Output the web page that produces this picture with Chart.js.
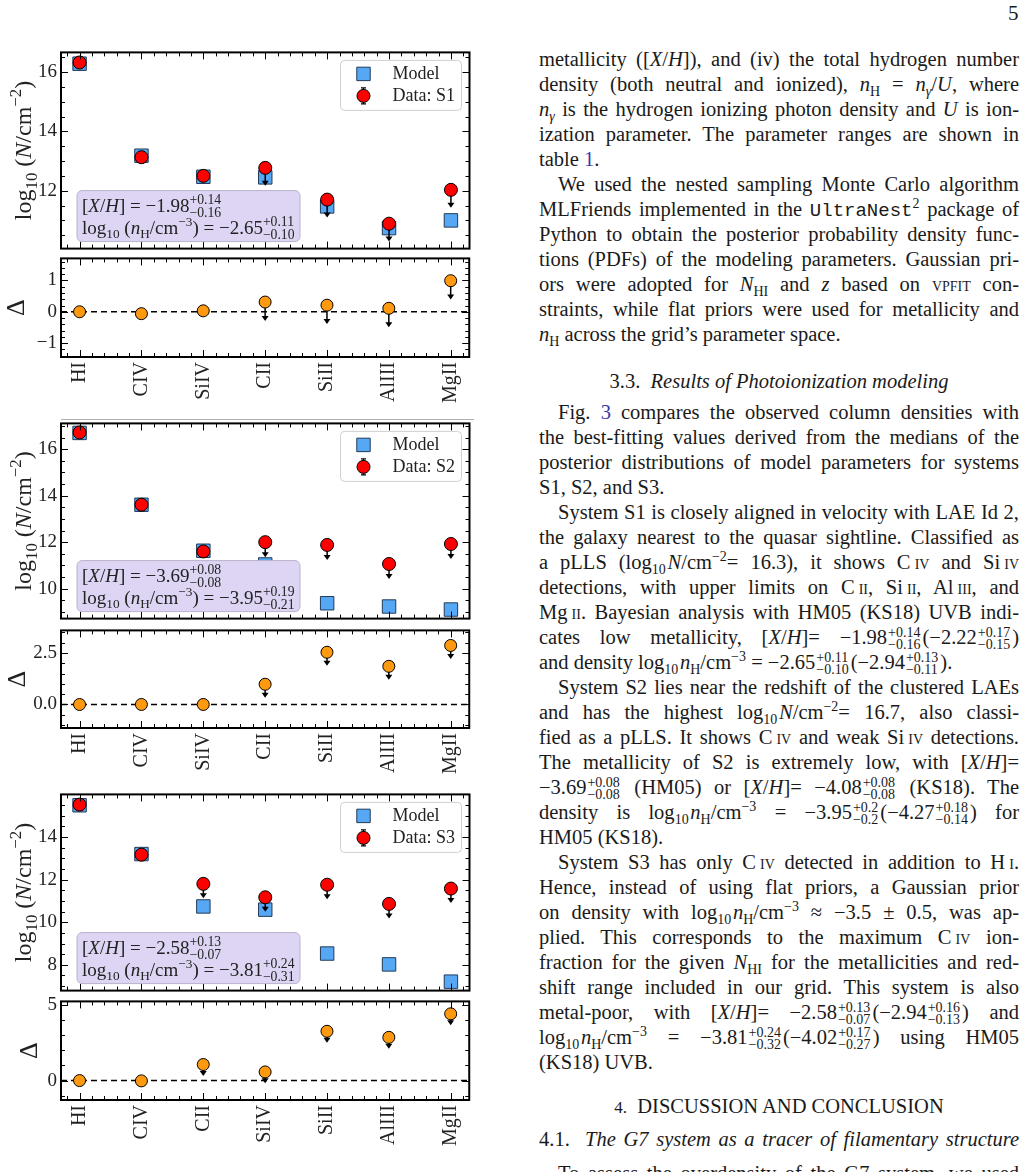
<!DOCTYPE html>
<html>
<head>
<meta charset="utf-8">
<script src="https://cdn.jsdelivr.net/npm/chart.js@4.4.1/dist/chart.umd.min.js"></script>
<style>
body { margin: 0; width: 1029px; height: 1172px; overflow: hidden; background: #fff; position: relative;
       font-family: "Liberation Serif", "DejaVu Serif", serif; color: #1a1a1a; }
canvas { position: absolute; left: 0; }
.col { position: absolute; left: 539px; width: 480px; font-size: 20.5px; line-height: 25px; }
.l { height: 25px; text-align: justify; text-align-last: justify; }
.l.e { text-align-last: left; }
.l.i { text-indent: 19px; }
.h { position: absolute; left: 539px; width: 480px; font-size: 20.5px; line-height: 25px; text-align: center; }
sub { font-size: 14px; vertical-align: -5px; line-height: 0; }
sup { font-size: 14px; vertical-align: 8px; line-height: 0; }
.st { display: inline-flex; flex-direction: column; font-size: 14px; line-height: 12px; vertical-align: 7px; margin: 0 2px 0 1px; }
.st b { font-weight: normal; }
.sc { font-variant: small-caps; }
.tt { font-family: "Liberation Mono", monospace; font-size: 19px; }
a { color: #3a3aa8; }
.pg { position: absolute; left: 1008px; top: 1px; font-size: 21px; }
</style>
</head>
<body>
<div id="fig"></div>
<div style="position:absolute;left:61px;top:419px;width:413px;height:1px;background:#b0b0b0"></div>

<div class="pg">5</div>

<div class="col" style="top:47px">
<div class="l">metallicity ([<i>X</i>/<i>H</i>]), and (iv) the total hydrogen number</div>
<div class="l">density (both neutral and ionized), <i>n</i><sub>H</sub> = <i>n</i><sub><i>γ</i></sub>/<i>U</i>, where</div>
<div class="l"><i>n</i><sub><i>γ</i></sub> is the hydrogen ionizing photon density and <i>U</i> is ion-</div>
<div class="l">ization parameter. The parameter ranges are shown in</div>
<div class="l e">table <a>1</a>.</div>
<div class="l i">We used the nested sampling Monte Carlo algorithm</div>
<div class="l">MLFriends implemented in the <span class="tt">UltraNest</span><sup>2</sup> package of</div>
<div class="l">Python to obtain the posterior probability density func-</div>
<div class="l">tions (PDFs) of the modeling parameters. Gaussian pri-</div>
<div class="l">ors were adopted for <i>N</i><sub>HI</sub> and <i>z</i> based on <span class="sc">vpfit</span> con-</div>
<div class="l">straints, while flat priors were used for metallicity and</div>
<div class="l e"><i>n</i><sub>H</sub> across the grid’s parameter space.</div>
</div>

<div class="h" style="top:369px">3.3.&nbsp;&nbsp;<i>Results of Photoionization modeling</i></div>

<div class="col" style="top:400px">
<div class="l i">Fig. <a>3</a> compares the observed column densities with</div>
<div class="l">the best-fitting values derived from the medians of the</div>
<div class="l">posterior distributions of model parameters for systems</div>
<div class="l e">S1, S2, and S3.</div>
<div class="l i">System S1 is closely aligned in velocity with LAE Id 2,</div>
<div class="l">the galaxy nearest to the quasar sightline. Classified as</div>
<div class="l">a pLLS (log<sub>10</sub>&#8202;<i>N</i>/cm<sup>−2</sup>= 16.3), it shows C<span class="sc">&#8201;iv</span> and Si<span class="sc">&#8201;iv</span></div>
<div class="l">detections, with upper limits on C<span class="sc">&#8201;ii</span>, Si<span class="sc">&#8201;ii</span>, Al<span class="sc">&#8201;iii</span>, and</div>
<div class="l">Mg<span class="sc">&#8201;ii</span>. Bayesian analysis with HM05 (KS18) UVB indi-</div>
<div class="l">cates low metallicity, [<i>X</i>/<i>H</i>]= −1.98<span class="st"><b>+0.14</b><b>−0.16</b></span>(−2.22<span class="st"><b>+0.17</b><b>−0.15</b></span>)</div>
<div class="l e">and density log<sub>10</sub>&#8202;<i>n</i><sub>H</sub>/cm<sup>−3</sup> = −2.65<span class="st"><b>+0.11</b><b>−0.10</b></span>(−2.94<span class="st"><b>+0.13</b><b>−0.11</b></span>).</div>
<div class="l i">System S2 lies near the redshift of the clustered LAEs</div>
<div class="l">and has the highest log<sub>10</sub>&#8202;<i>N</i>/cm<sup>−2</sup>= 16.7, also classi-</div>
<div class="l">fied as a pLLS. It shows C<span class="sc">&#8201;iv</span> and weak Si<span class="sc">&#8201;iv</span> detections.</div>
<div class="l">The metallicity of S2 is extremely low, with [<i>X</i>/<i>H</i>]=</div>
<div class="l">−3.69<span class="st"><b>+0.08</b><b>−0.08</b></span> (HM05) or [<i>X</i>/<i>H</i>]= −4.08<span class="st"><b>+0.08</b><b>−0.08</b></span> (KS18). The</div>
<div class="l">density is log<sub>10</sub>&#8202;<i>n</i><sub>H</sub>/cm<sup>−3</sup> = −3.95<span class="st"><b>+0.2</b><b>−0.2</b></span>(−4.27<span class="st"><b>+0.18</b><b>−0.14</b></span>) for</div>
<div class="l e">HM05 (KS18).</div>
<div class="l i">System S3 has only C<span class="sc">&#8201;iv</span> detected in addition to H<span class="sc">&#8201;i</span>.</div>
<div class="l">Hence, instead of using flat priors, a Gaussian prior</div>
<div class="l">on density with log<sub>10</sub>&#8202;<i>n</i><sub>H</sub>/cm<sup>−3</sup> ≈ −3.5 ± 0.5, was ap-</div>
<div class="l">plied. This corresponds to the maximum C<span class="sc">&#8201;iv</span> ion-</div>
<div class="l">fraction for the given <i>N</i><sub>HI</sub> for the metallicities and red-</div>
<div class="l">shift range included in our grid. This system is also</div>
<div class="l">metal-poor, with [<i>X</i>/<i>H</i>]= −2.58<span class="st"><b>+0.13</b><b>−0.07</b></span>(−2.94<span class="st"><b>+0.16</b><b>−0.13</b></span>) and</div>
<div class="l">log<sub>10</sub>&#8202;<i>n</i><sub>H</sub>/cm<sup>−3</sup> = −3.81<span class="st"><b>+0.24</b><b>−0.32</b></span>(−4.02<span class="st"><b>+0.17</b><b>−0.27</b></span>) using HM05</div>
<div class="l e">(KS18) UVB.</div>
</div>

<div class="h" style="top:1094px"><span style="font-size:17px">4.</span>&nbsp;&nbsp;DISCUSSION AND CONCLUSION</div>
<div class="col" style="top:1127px">
<div class="l">4.1.&nbsp;&nbsp;<i>The G7 system as a tracer of filamentary structure</i></div>
</div>
<div class="col" style="top:1161px">
<div class="l i">To assess the overdensity of the G7 system, we used</div>
</div>

<script>
// Werte (log10 N/cm^-2)
const ions1 = ['HI', 'CIV', 'SiIV', 'CII', 'SiII', 'AlIII', 'MgII'];
const model1 = [16.28, 13.18, 12.47, 12.45, 11.47, 10.74, 11.00];
const data1 = [16.32, 13.13, 12.50, 12.77, 11.70, 10.89, 12.03];
const upper1 = [0, 0, 0, 1, 1, 1, 1];
const delta1 = [0.00, -0.06, 0.03, 0.31, 0.21, 0.11, 0.99];
const fit1 = ['−1.98', '+0.14', '−0.16', '−2.65', '+0.11', '−0.10'];

const ions2 = ['HI', 'CIV', 'SiIV', 'CII', 'SiII', 'AlIII', 'MgII'];
const model2 = [16.70, 13.61, 11.63, 11.04, 9.37, 9.23, 9.10];
const data2 = [16.72, 13.61, 11.60, 12.00, 11.88, 11.06, 11.92];
const upper2 = [0, 0, 0, 1, 1, 1, 1];
const delta2 = [0.00, 0.00, 0.00, 0.98, 2.53, 1.85, 2.86];
const fit2 = ['−3.69', '+0.08', '−0.08', '−3.95', '+0.19', '−0.21'];

const ions3 = ['HI', 'CIV', 'CII', 'SiIV', 'SiII', 'AlIII', 'MgII'];
const model3 = [15.49, 13.20, 10.74, 10.59, 8.53, 8.02, 7.21];
const data3 = [15.52, 13.17, 11.80, 11.17, 11.76, 10.86, 11.58];
const upper3 = [0, 0, 1, 1, 1, 1, 1];
const delta3 = [0.00, -0.02, 1.06, 0.57, 3.25, 2.85, 4.40];
const fit3 = ['−2.58', '+0.13', '−0.07', '−3.81', '+0.24', '−0.31'];

// Achsenbeschriftungen
const nTicks1 = [12, 14, 16];
const nTicks2 = [10, 12, 14, 16];
const nTicks3 = [8, 10, 12, 14];
const dTicks1 = [-1, 0, 1];
const dLabels1 = ['−1', '0', '1'];
const dTicks2 = [0, 2.5];
const dLabels2 = ['0.0', '2.5'];
const dTicks3 = [0, 5];
const dLabels3 = ['0', '5'];

const systems = [
    { name: 'S1', ions: ions1, model: model1, data: data1, upper: upper1, delta: delta1, fit: fit1, nTicks: nTicks1, dTicks: dTicks1, dLabels: dLabels1 },
    { name: 'S2', ions: ions2, model: model2, data: data2, upper: upper2, delta: delta2, fit: fit2, nTicks: nTicks2, dTicks: dTicks2, dLabels: dLabels2 },
    { name: 'S3', ions: ions3, model: model3, data: data3, upper: upper3, delta: delta3, fit: fit3, nTicks: nTicks3, dTicks: dTicks3, dLabels: dLabels3 }
];

// Lage der Achsenrahmen im Bild und Achsenbereiche
const frames = [
    { top: 49, h: 203, nMin: 10.05, nMax: 16.66, nArrow: 0.6, dTop: 255, dh: 102, dMin: -1.44, dMax: 1.70, dMinor: 0.2, dArrow: 0.6, dTitleX: 24 },
    { top: 420, h: 202, nMin: 8.71, nMax: 17.11, nArrow: 0.65, dTop: 627, dh: 101, dMin: -1.14, dMax: 3.59, dMinor: 0.5, dArrow: 0.65, dTitleX: 25 },
    { top: 791, h: 203, nMin: 6.79, nMax: 16.0, nArrow: 0.68, dTop: 998, dh: 102, dMin: -1.28, dMax: 5.22, dMinor: 1, dArrow: 0.75, dTitleX: 37 }
];

const FONT = '"Liberation Serif", "DejaVu Serif", serif';
const RED = '#ff0000', BLUE = '#56a8f5', ORANGE = '#ff9a10';

function fnt(size, italic) {
    return (italic ? 'italic ' : '') + size + 'px ' + FONT;
}

// kleiner Formelsatz auf dem Canvas: Hoch-/Tiefstellung und gestapelte Fehler
function rich(ctx, parts, x, y, size, draw) {
    let cx = x;
    parts.forEach(p => {
        if (p.st) {
            ctx.font = fnt(size * 0.72, false);
            const w = Math.max(ctx.measureText(p.st[0]).width, ctx.measureText(p.st[1]).width);
            if (draw) {
                ctx.fillText(p.st[0], cx, y - size * 0.4);
                ctx.fillText(p.st[1], cx, y + size * 0.3);
            }
            cx += w;
            return;
        }
        const s = (p.sub || p.sup) ? size * 0.7 : size;
        const dy = p.sub ? size * 0.25 : (p.sup ? -size * 0.42 : 0);
        ctx.font = fnt(s, p.i);
        if (draw) ctx.fillText(p.t, cx, y + dy);
        cx += ctx.measureText(p.t).width;
    });
    return cx - x;
}

function minorTicks(min, max, step) {
    const out = [];
    for (let v = Math.ceil(min / step - 1e-6) * step; v <= max + 1e-6; v += step) out.push(v);
    return out;
}

function decor(o) {
    return {
        id: 'decor',
        // Pfeile für obere Grenzen, unter den Kreisen gezeichnet
        beforeDatasetDraw(chart, args) {
            if (args.index !== 0) return;
            const ctx = chart.ctx, xs = chart.scales.x, ys = chart.scales.y;
            ctx.save();
            ctx.strokeStyle = '#000';
            ctx.fillStyle = '#000';
            ctx.lineWidth = 1.5;
            o.vals.forEach((v, i) => {
                if (!o.upper[i]) return;
                const px = xs.getPixelForValue(i);
                const py = ys.getPixelForValue(v);
                const tip = ys.getPixelForValue(v - o.arrow);
                ctx.beginPath();
                ctx.moveTo(px, py);
                ctx.lineTo(px, tip - 3);
                ctx.stroke();
                ctx.beginPath();
                ctx.moveTo(px - 3.5, tip - 5);
                ctx.lineTo(px + 3.5, tip - 5);
                ctx.lineTo(px, tip);
                ctx.closePath();
                ctx.fill();
            });
            ctx.restore();
        },
        afterDatasetsDraw(chart) {
            const ctx = chart.ctx, a = chart.chartArea, xs = chart.scales.x, ys = chart.scales.y;
            ctx.save();
            // Ticks nach innen auf allen vier Seiten
            ctx.strokeStyle = '#000';
            ctx.lineWidth = 1;
            const tickX = (v, len) => {
                const p = Math.round(xs.getPixelForValue(v)) + 0.5;
                ctx.beginPath();
                ctx.moveTo(p, a.bottom); ctx.lineTo(p, a.bottom - len);
                ctx.moveTo(p, a.top); ctx.lineTo(p, a.top + len);
                ctx.stroke();
            };
            const tickY = (v, len) => {
                const p = Math.round(ys.getPixelForValue(v)) + 0.5;
                ctx.beginPath();
                ctx.moveTo(a.left, p); ctx.lineTo(a.left + len, p);
                ctx.moveTo(a.right, p); ctx.lineTo(a.right - len, p);
                ctx.stroke();
            };
            minorTicks(xs.min, xs.max, 0.2).forEach(v => tickX(v, 4));
            o.ions.forEach((_, i) => tickX(i, 7));
            minorTicks(ys.min, ys.max, o.yMinor).forEach(v => tickY(v, 4));
            o.yTicks.forEach(v => tickY(v, 7));
            ctx.lineWidth = 2;
            ctx.strokeRect(a.left, a.top, a.right - a.left, a.bottom - a.top);

            ctx.textAlign = 'left';
            ctx.textBaseline = 'alphabetic';

            // Kasten mit den Fitparametern
            if (o.fit) {
                const bx = a.left + 16, by = a.bottom - 58;
                ctx.beginPath();
                ctx.roundRect(bx, by, 223, 51, 5);
                ctx.fillStyle = '#ddd5f3';
                ctx.fill();
                ctx.strokeStyle = '#b9b3cc';
                ctx.lineWidth = 1;
                ctx.stroke();
                ctx.fillStyle = '#222';
                rich(ctx, [{ t: '[' }, { t: 'X', i: 1 }, { t: '/' }, { t: 'H', i: 1 }, { t: '] = ' + o.fit[0] }, { st: [o.fit[1], o.fit[2]] }],
                    bx + 5, a.bottom - 37, 19, true);
                rich(ctx, [{ t: 'log' }, { t: '10', sub: 1 }, { t: ' (' }, { t: 'n', i: 1 }, { t: 'H', sub: 1 }, { t: '/cm' }, { t: '−3', sup: 1 },
                    { t: ') = ' + o.fit[3] }, { st: [o.fit[4], o.fit[5]] }], bx + 5, a.bottom - 15, 19, true);
            }

            // Legende oben rechts
            if (o.legend) {
                const lx = a.right - 129, ly = a.top + 8;
                ctx.beginPath();
                ctx.roundRect(lx, ly, 121, 50, 4);
                ctx.fillStyle = 'rgba(255,255,255,0.85)';
                ctx.fill();
                ctx.strokeStyle = '#d0d0d0';
                ctx.lineWidth = 1;
                ctx.stroke();
                const dsData = chart.data.datasets[0], dsModel = chart.data.datasets[1];
                const mx = a.right - 106;
                ctx.fillStyle = dsModel.pointBackgroundColor;
                ctx.strokeStyle = dsModel.pointBorderColor;
                ctx.lineWidth = 1;
                Chart.helpers.drawPoint(ctx, { pointStyle: 'rect', radius: dsModel.pointRadius, rotation: 0, borderWidth: 1 }, mx, ly + 13.5);
                ctx.strokeStyle = '#000';
                ctx.lineWidth = 1.2;
                ctx.beginPath();
                ctx.moveTo(mx, ly + 27.5); ctx.lineTo(mx, ly + 43.5);
                ctx.moveTo(mx - 2.5, ly + 27.5); ctx.lineTo(mx + 2.5, ly + 27.5);
                ctx.moveTo(mx - 2.5, ly + 43.5); ctx.lineTo(mx + 2.5, ly + 43.5);
                ctx.stroke();
                ctx.fillStyle = dsData.pointBackgroundColor;
                ctx.lineWidth = 1;
                Chart.helpers.drawPoint(ctx, { pointStyle: 'circle', radius: dsData.pointRadius, rotation: 0, borderWidth: 1 }, mx, ly + 35.5);
                ctx.fillStyle = '#222';
                ctx.font = fnt(18, false);
                ctx.textBaseline = 'middle';
                ctx.fillText(dsModel.label, a.right - 77, ly + 14);
                ctx.fillText(dsData.label, a.right - 77, ly + 36);
                ctx.textBaseline = 'alphabetic';
            }

            // Achsentitel, gedreht
            ctx.fillStyle = '#222';
            const cy = (a.top + a.bottom) / 2;
            ctx.translate(o.titleX, cy);
            ctx.rotate(-Math.PI / 2);
            if (o.title === 'log') {
                const parts = [{ t: 'log' }, { t: '10', sub: 1 }, { t: ' (' }, { t: 'N', i: 1 }, { t: '/cm' }, { t: '−2', sup: 1 }, { t: ')' }];
                const w = rich(ctx, parts, 0, 0, 24, false);
                rich(ctx, parts, -w / 2, 0, 24, true);
            } else {
                ctx.font = fnt(26, false);
                const w = ctx.measureText('Δ').width;
                ctx.fillText('Δ', -w / 2, 0);
            }
            ctx.restore();
        }
    };
}

function panel(top, h, withX, ions, yMin, yMax, yTicks, yLabels, datasets, o) {
    const cv = document.createElement('canvas');
    cv.width = 480;
    cv.height = 12 + h + (withX ? 60 : 12);
    cv.style.top = (top - 12) + 'px';
    document.getElementById('fig').appendChild(cv);
    const xAxis = {
        type: 'linear', min: -0.3, max: 6.3, display: withX,
        grid: { display: false, drawTicks: false }, border: { display: false },
        afterBuildTicks: s => { s.ticks = ions.map((_, i) => ({ value: i })); },
        ticks: { autoSkip: false, minRotation: 90, maxRotation: 90, padding: 5, color: '#222',
                 font: { family: FONT, size: 20 }, callback: v => ions[v] }
    };
    if (withX) xAxis.afterFit = s => { s.height = 60; };
    return new Chart(cv, {
        type: 'scatter',
        data: { datasets: datasets },
        options: {
            responsive: false,
            animation: false,
            devicePixelRatio: 1,
            events: [],
            layout: { padding: { top: 12, bottom: withX ? 0 : 12, left: 0, right: 6 } },
            scales: {
                x: xAxis,
                y: {
                    min: yMin, max: yMax,
                    grid: { display: false, drawTicks: false }, border: { display: false },
                    afterBuildTicks: s => { s.ticks = yTicks.map(v => ({ value: v })); },
                    afterFit: s => { s.width = 61; },
                    ticks: { padding: 4, color: '#222', font: { family: FONT, size: 19 }, callback: (v, i) => yLabels[i] }
                }
            },
            plugins: { legend: { display: false }, tooltip: { enabled: false } }
        },
        plugins: [decor(o)]
    });
}

const pts = arr => arr.map((v, i) => ({ x: i, y: v }));

systems.forEach((s, k) => {
    const f = frames[k];
    // Säulendichten: Daten (Kreise) und Modell (Quadrate)
    panel(f.top, f.h, false, s.ions, f.nMin, f.nMax, s.nTicks, s.nTicks.map(String), [
        { label: 'Data: ' + s.name, data: pts(s.data), pointStyle: 'circle', pointRadius: 6.5,
          pointBackgroundColor: RED, pointBorderColor: '#000', pointBorderWidth: 1, clip: false },
        { label: 'Model', data: pts(s.model), pointStyle: 'rect', pointRadius: 9.5,
          pointBackgroundColor: BLUE, pointBorderColor: '#223a58', pointBorderWidth: 1, clip: false }
    ], { ions: s.ions, vals: s.data, upper: s.upper, arrow: f.nArrow, yTicks: s.nTicks, yMinor: 0.5,
         legend: true, fit: s.fit, title: 'log', titleX: 31 });

    // Residuen Daten - Modell
    panel(f.dTop, f.dh, true, s.ions, f.dMin, f.dMax, s.dTicks, s.dLabels, [
        { label: 'Δ', data: pts(s.delta), pointStyle: 'circle', pointRadius: 6,
          pointBackgroundColor: ORANGE, pointBorderColor: '#000', pointBorderWidth: 1, clip: false },
        { type: 'line', label: 'null', data: [{ x: -0.3, y: 0 }, { x: 6.3, y: 0 }], showLine: true, pointRadius: 0,
          borderColor: '#000', borderWidth: 1.5, borderDash: [6, 4] }
    ], { ions: s.ions, vals: s.delta, upper: s.upper, arrow: f.dArrow, yTicks: s.dTicks, yMinor: f.dMinor,
         legend: false, fit: null, title: 'delta', titleX: f.dTitleX });
});
</script>
</body>
</html>
